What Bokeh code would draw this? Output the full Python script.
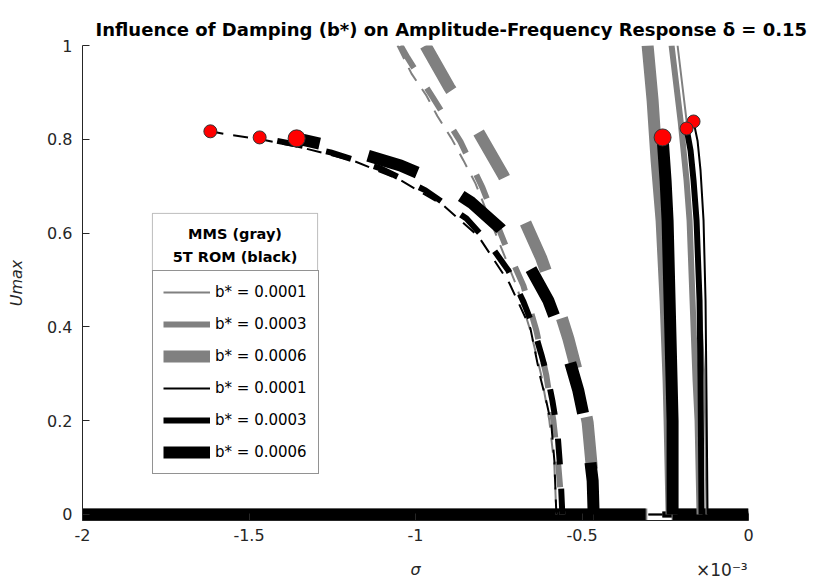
from bokeh.plotting import figure
from bokeh.models import Range1d, Legend, LegendItem, Label, BoxAnnotation, FixedTicker, LinearAxis
from bokeh.embed import file_html
from bokeh.resources import INLINE

# sigma values are in units of 1e-3 (axis multiplier x10^-3); U = Umax
b_values = ["0.0001", "0.0003", "0.0006"]

# ---- 5T ROM (black): unstable (dashed) left branches, from U=0 up to the end point
rom_left_s = {
    "0.0001": [-0.577, -0.583, -0.592, -0.607, -0.625, -0.655, -0.718, -0.811, -0.916, -1.048, -1.189, -1.345, -1.465, -1.562, -1.616],
    "0.0003": [-0.559, -0.565, -0.574, -0.589, -0.601, -0.622, -0.646, -0.676, -0.721, -0.775, -0.847, -0.970, -1.105, -1.255, -1.345, -1.468],
    "0.0006": [-0.465, -0.468, -0.486, -0.511, -0.550, -0.601, -0.664, -0.745, -0.832, -0.925, -1.045, -1.195, -1.357],
}
rom_left_u = {
    "0.0001": [0.0, 0.115, 0.192, 0.241, 0.292, 0.397, 0.493, 0.593, 0.659, 0.714, 0.755, 0.783, 0.800, 0.810, 0.817],
    "0.0003": [0.0, 0.094, 0.179, 0.243, 0.286, 0.341, 0.399, 0.454, 0.520, 0.574, 0.631, 0.691, 0.738, 0.772, 0.787, 0.804],
    "0.0006": [0.0, 0.072, 0.179, 0.264, 0.360, 0.456, 0.537, 0.610, 0.665, 0.708, 0.744, 0.776, 0.802],
}
# ---- 5T ROM (black): stable (solid) right branches, from U=0 up to the end point
rom_right_s = {
    "0.0001": [-0.123, -0.126, -0.129, -0.135, -0.144, -0.153, -0.165],
    "0.0003": [-0.141, -0.144, -0.147, -0.156, -0.165, -0.174, -0.186],
    "0.0006": [-0.228, -0.228, -0.231, -0.237, -0.243, -0.249, -0.258],
}
rom_right_u = {
    "0.0001": [0.0, 0.243, 0.456, 0.627, 0.733, 0.797, 0.838],
    "0.0003": [0.0, 0.286, 0.456, 0.627, 0.712, 0.776, 0.823],
    "0.0006": [0.0, 0.200, 0.286, 0.456, 0.627, 0.712, 0.804],
}
# ---- MMS (gray): unstable (dashed) left branches, from top (U=1) down to U=0
mms_left_s = {
    "0.0001": [-1.054, -1.012, -0.967, -0.934, -0.892, -0.856, -0.820, -0.751, -0.697, -0.655, -0.622, -0.598, -0.583, -0.577],
    "0.0003": [-1.045, -1.024, -0.946, -0.865, -0.799, -0.730, -0.676, -0.637, -0.607, -0.586, -0.571, -0.559],
    "0.0006": [-0.970, -0.898, -0.814, -0.736, -0.673, -0.622, -0.577, -0.541, -0.508, -0.483, -0.471, -0.465],
}
mms_left_u = {
    "0.0001": [1.0, 0.940, 0.893, 0.849, 0.802, 0.755, 0.706, 0.584, 0.488, 0.392, 0.296, 0.200, 0.104, 0.0],
    "0.0003": [1.0, 0.974, 0.887, 0.795, 0.697, 0.574, 0.488, 0.392, 0.296, 0.200, 0.104, 0.0],
    "0.0006": [1.0, 0.910, 0.819, 0.723, 0.627, 0.546, 0.456, 0.375, 0.286, 0.196, 0.104, 0.0],
}
# ---- MMS (gray): stable (solid) right branches
mms_right_s = {
    "0.0001": [-0.126, -0.132, -0.144, -0.156, -0.168, -0.186, -0.213],
    "0.0003": [-0.147, -0.153, -0.159, -0.168, -0.177, -0.186, -0.204, -0.231],
    "0.0006": [-0.231, -0.237, -0.240, -0.249, -0.261, -0.276, -0.288, -0.303],
}
mms_right_u = {
    "0.0001": [0.0, 0.286, 0.456, 0.627, 0.712, 0.840, 1.0],
    "0.0003": [0.0, 0.200, 0.286, 0.456, 0.627, 0.712, 0.840, 1.0],
    "0.0006": [0.0, 0.200, 0.286, 0.456, 0.627, 0.755, 0.883, 1.0],
}
# ---- trivial solution U=0: bifurcation points (left, right) per damping
rom_bif = {"0.0001": (-0.577, -0.123), "0.0003": (-0.559, -0.141), "0.0006": (-0.465, -0.228)}
mms_bif = {"0.0001": (-0.577, -0.126), "0.0003": (-0.559, -0.147), "0.0006": (-0.460, -0.231)}
sigma_min, sigma_max = -2.0, 0.0

x_ticks = [-2, -1.5, -1, -0.5, 0]
x_tick_labels = ["-2", "-1.5", "-1", "-0.5", "0"]
y_ticks = [0, 0.2, 0.4, 0.6, 0.8, 1]
y_tick_labels = ["0", "0.2", "0.4", "0.6", "0.8", "1"]
x_multiplier = "\u00d710\u207b\u00b3"
x_multiplier_pos = -0.08   # placement of the multiplier text (right end of the axis)

# styles
widths = {"0.0001": 2, "0.0003": 6, "0.0006": 12}
dashes = {"0.0001": "15 10", "0.0003": "26 24", "0.0006": "52 50"}
triv_offset = {"0.0001": 8, "0.0003": 0, "0.0006": 0}
dot_size = {"0.0001": 13, "0.0003": 13, "0.0006": 17}
GRAY = "#808080"
AX = "#262626"
FONT = "DejaVu Sans"

p = figure(width=815, height=586, output_backend="svg", toolbar_location=None,
           x_range=Range1d(-2, 0), y_range=Range1d(-0.0128, 1.0))
p.min_border_left = 82
p.min_border_right = 67
p.min_border_top = 45
p.min_border_bottom = 66
p.outline_line_color = None
p.grid.visible = False
p.background_fill_color = "white"

p.title.text = "Influence of Damping (b*) on Amplitude-Frequency Response \u03b4 = 0.15"
p.title.text_font = FONT
p.title.text_font_size = "18px"
p.title.text_font_style = "bold"
p.title.align = "left"
p.title.offset = 13
p.title.text_color = "black"
p.title.standoff = 11

for ax in (p.xaxis[0], p.yaxis[0]):
    ax.axis_line_color = AX
    ax.major_tick_line_color = AX
    ax.minor_tick_line_color = None
    ax.major_tick_in = 7
    ax.major_tick_out = 0
    ax.major_label_text_font = FONT
    ax.major_label_text_font_size = "16px"
    ax.major_label_text_color = AX
    ax.axis_label_text_font = FONT
    ax.axis_label_text_font_size = "16px"
    ax.axis_label_text_font_style = "italic"
    ax.axis_label_text_color = AX

p.xaxis.ticker = FixedTicker(ticks=x_ticks)
p.xaxis.major_label_overrides = dict(zip(x_ticks, x_tick_labels))
p.yaxis.ticker = FixedTicker(ticks=y_ticks)
p.yaxis.major_label_overrides = dict(zip(y_ticks, y_tick_labels))
p.xaxis.axis_label = "\u03c3"
p.yaxis.axis_label = "Umax"
p.xaxis.major_label_standoff = 8
p.xaxis.axis_label_standoff = 16
p.yaxis.major_label_standoff = 10
p.yaxis.axis_label_standoff = 18

# secondary (label-only) axis carrying the x10^-3 multiplier at the right end
mult_axis = LinearAxis(ticker=FixedTicker(ticks=[x_multiplier_pos]),
                       major_label_overrides={x_multiplier_pos: x_multiplier},
                       axis_line_color=None, major_tick_line_color=None, minor_tick_line_color=None,
                       major_tick_in=0, major_tick_out=0, major_label_standoff=-22,
                       major_label_text_font=FONT,
                       major_label_text_font_size="17px", major_label_text_color=AX)
p.add_layout(mult_axis, "below")

# trivial solution: stable parts solid, unstable part dashed
for b in b_values:
    for bif, col in ((mms_bif[b], GRAY), (rom_bif[b], "black")):
        p.line([sigma_min, bif[0]], [0, 0], line_color=col, line_width=widths[b])
        p.line([bif[0], bif[1]], [0, 0], line_color=col, line_width=widths[b],
               line_dash=dashes[b], line_dash_offset=triv_offset[b])
        p.line([bif[1], sigma_max], [0, 0], line_color=col, line_width=widths[b])

legend_renderers = {}
# MMS gray curves
for b in b_values:
    p.line(mms_left_s[b], mms_left_u[b], line_color=GRAY, line_width=widths[b], line_dash=dashes[b])
    legend_renderers[("mms", b)] = p.line(mms_right_s[b], mms_right_u[b], line_color=GRAY, line_width=widths[b])
# ROM black curves
for b in b_values:
    p.line(rom_left_s[b], rom_left_u[b], line_color="black", line_width=widths[b], line_dash=dashes[b])
    legend_renderers[("rom", b)] = p.line(rom_right_s[b], rom_right_u[b], line_color="black", line_width=widths[b])
# ROM end points (red dots)
for b in b_values:
    p.scatter([rom_left_s[b][-1], rom_right_s[b][-1]], [rom_left_u[b][-1], rom_right_u[b][-1]],
              size=dot_size[b], fill_color="red", line_color="#333333", line_width=1)

items = [LegendItem(label="b* = " + b, renderers=[legend_renderers[("mms", b)]]) for b in b_values]
items += [LegendItem(label="b* = " + b, renderers=[legend_renderers[("rom", b)]]) for b in b_values]
legend = Legend(items=items, location=(70, 46), border_line_color=AX, border_line_width=1,
                background_fill_color="white", background_fill_alpha=1.0,
                padding=10, spacing=10, margin=0, glyph_width=47, glyph_height=22,
                label_height=22, label_standoff=5, label_width=93,
                label_text_font=FONT, label_text_font_size="15px", label_text_color="black")
p.add_layout(legend)

# legend header box
p.add_layout(BoxAnnotation(left=-1.790, right=-1.294, top=0.642, bottom=0.518,
                           fill_color="white", fill_alpha=1.0, line_color=AX, line_width=1))
for txt, yy in (("MMS (gray)", 0.599), ("5T ROM (black)", 0.548)):
    p.add_layout(Label(x=-1.542, y=yy, text=txt, text_align="center", text_baseline="middle",
                       text_font=FONT, text_font_size="14.5px", text_font_style="bold", text_color="black"))

open("out.html", "w").write(file_html(p, INLINE))
